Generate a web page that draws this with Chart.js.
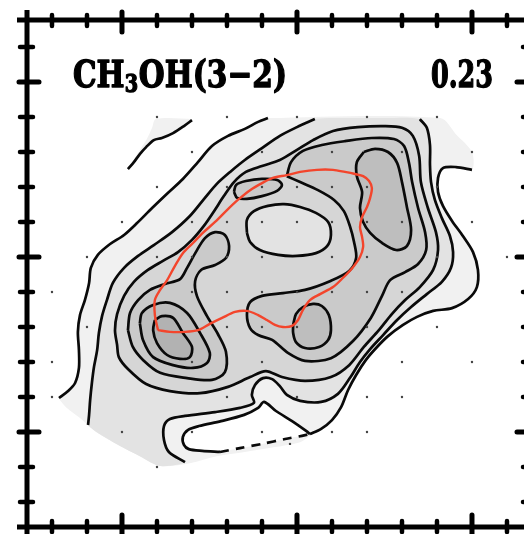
<!DOCTYPE html>
<html>
<head>
<meta charset="utf-8">
<script src="https://cdn.jsdelivr.net/npm/chart.js@4.4.1/dist/chart.umd.min.js"></script>
<style>
  html, body { margin: 0; padding: 0; background: #fff; overflow: hidden; }
  #wrap { width: 560px; height: 534px; }
</style>
</head>
<body>
<div id="wrap"><canvas id="map" width="560" height="534"></canvas></div>
<script>
// =========================
// Map frame: offsets in arcsec, one tick per arcsec
// =========================
const xRange = [-2.714, 11.629];
const yRange = [-7.714, 6.771];
const xTicks = [-2, -1, 0, 1, 2, 3, 4, 5, 6, 7, 8, 9, 10, 11];
const yTicks = [-7, -6, -5, -4, -3, -2, -1, 0, 1, 2, 3, 4, 5, 6];
const majorStep = 5;

const speciesLabel = ['CH', '3', 'OH(3\u22122)'];
const peakLabel = '0.23';

// =========================
// Contours (x, y in arcsec)
// =========================
const fragLine = [[2.00,3.91],[1.77,3.74],[1.46,3.54],[1.14,3.40],[0.91,3.34],[0.69,3.14],[0.51,2.94],[0.34,2.71],[0.17,2.51]];
const fragEdge = [[0.51,3.06],[0.71,3.37],[0.86,3.69],[0.97,3.94],[2.00,3.94]];

const l1West = [[-1.80,-4.03],[-1.54,-3.83],[-1.34,-3.60],[-1.23,-3.17],[-1.23,-2.66],[-1.26,-2.14],[-1.20,-1.66],[-1.06,-1.23],[-0.94,-0.74],[-0.89,-0.31],[-0.69,0.06],[-0.34,0.37],[0.06,0.63],[0.43,0.97],[0.86,1.40],[1.31,1.83],[1.74,2.23],[2.17,2.71],[2.57,3.17],[3.03,3.46],[3.51,3.66],[3.89,3.86],[4.17,3.97]];
const topEdge = [[9.09,3.97],[9.54,3.51],[10.00,3.00]];
const l1East = [[10.00,2.49],[9.54,2.57],[9.17,2.54],[9.03,2.26],[9.03,1.86],[9.17,1.46],[9.43,1.03],[9.74,0.60],[10.03,0.14],[10.17,-0.37],[10.14,-0.86],[9.89,-1.20],[9.43,-1.46],[8.89,-1.54],[8.43,-1.71],[8.03,-1.94],[7.60,-2.26],[7.26,-2.60],[6.97,-2.94],[6.69,-3.37],[6.46,-3.80],[6.26,-4.29],[6.00,-4.66],[5.69,-4.91],[5.37,-5.06]];
const coverBottom = [[5.37,-5.11],[5.09,-5.29],[4.37,-5.43],[3.51,-5.57],[2.71,-5.69],[1.94,-5.89],[1.09,-5.97],[0.51,-5.69],[-0.11,-5.37],[-0.69,-5.03],[-1.20,-4.60],[-1.60,-4.29],[-1.80,-4.06]];

const holeSolid = [[5.37,-5.06],[5.26,-4.97],[4.86,-4.69],[4.40,-4.40],[4.06,-4.14],[3.89,-4.31],[3.49,-4.51],[2.83,-4.69],[2.20,-4.83],[1.89,-4.94],[1.74,-5.14],[1.77,-5.37],[1.91,-5.49],[2.29,-5.54],[2.80,-5.57]];
const holeDashed = [[2.80,-5.57],[3.37,-5.46],[4.00,-5.34],[4.66,-5.20],[5.14,-5.11],[5.37,-5.06]];

const l2West = [[-0.97,-4.80],[-0.94,-4.51],[-0.91,-4.09],[-0.86,-3.60],[-0.80,-3.14],[-0.71,-2.66],[-0.66,-2.17],[-0.57,-1.69],[-0.43,-1.23],[-0.26,-0.74],[0.06,-0.31],[0.46,0.03],[0.91,0.34],[1.43,0.71],[1.94,1.17],[2.37,1.69],[2.71,2.09],[3.09,2.43],[3.51,2.77],[4.00,3.11],[4.51,3.46],[5.00,3.71],[5.51,3.94]];
const topEdge2 = [[6.50,3.97],[7.50,3.97]];
const l2East = [[8.51,3.94],[8.71,3.69],[8.80,3.20],[8.80,2.63],[8.83,2.14],[8.94,1.63],[9.14,1.11],[9.37,0.60],[9.46,0.14],[9.40,-0.31],[9.14,-0.71],[8.71,-1.06],[8.26,-1.43],[7.86,-1.80],[7.46,-2.23],[7.09,-2.63],[6.80,-3.00],[6.51,-3.46],[6.17,-3.91],[5.69,-4.14],[5.09,-4.11],[4.71,-3.94],[4.51,-3.69],[4.29,-3.49],[4.03,-3.46],[3.80,-3.66],[3.71,-3.94],[3.77,-4.17],[3.37,-4.31],[2.66,-4.43],[1.80,-4.54],[1.37,-4.63],[1.20,-4.83],[1.20,-5.23],[1.34,-5.57],[1.80,-5.86]];
const coverBottom2 = [[1.09,-5.97],[0.51,-5.69],[-0.11,-5.37],[-0.69,-5.03],[-0.97,-4.82]];

const l3Loop = [[-0.14,-2.51],[-0.20,-2.09],[-0.14,-1.63],[0.06,-1.11],[0.34,-0.71],[0.74,-0.37],[1.17,-0.11],[1.60,0.14],[2.00,0.49],[2.34,0.89],[2.63,1.31],[2.91,1.74],[3.20,2.14],[3.54,2.43],[4.00,2.60],[4.51,2.77],[5.00,3.06],[5.46,3.34],[6.03,3.60],[6.74,3.71],[7.51,3.74],[8.00,3.69],[8.31,3.46],[8.49,2.89],[8.54,2.14],[8.74,1.40],[8.97,0.71],[9.03,0.20],[8.89,-0.37],[8.51,-0.86],[8.09,-1.23],[7.71,-1.63],[7.34,-2.09],[6.91,-2.57],[6.49,-3.09],[5.97,-3.43],[5.23,-3.54],[4.57,-3.43],[4.11,-3.26],[3.66,-3.43],[3.03,-3.71],[2.23,-3.89],[1.37,-3.83],[0.69,-3.63],[0.17,-3.20],[-0.09,-2.86],[-0.14,-2.51]];
const dipLoop = [[3.57,0.69],[3.57,1.06],[3.77,1.31],[4.17,1.46],[4.63,1.51],[5.09,1.43],[5.54,1.26],[5.89,1.00],[5.97,0.63],[5.86,0.31],[5.54,0.11],[5.00,0.03],[4.46,0.06],[3.94,0.20],[3.66,0.43],[3.57,0.69]];
const knotLoop = [[3.20,1.86],[3.26,2.06],[3.54,2.17],[4.00,2.23],[4.43,2.20],[4.57,2.06],[4.43,1.89],[4.00,1.74],[3.57,1.66],[3.29,1.69],[3.20,1.86]];
const l4Main = [[4.71,2.31],[4.83,2.71],[5.17,3.03],[5.71,3.20],[6.37,3.31],[7.14,3.40],[7.77,3.37],[8.06,3.17],[8.20,2.69],[8.29,2.14],[8.46,1.40],[8.66,0.71],[8.69,0.20],[8.46,-0.20],[8.09,-0.43],[7.66,-0.66],[7.43,-1.11],[7.11,-1.74],[6.60,-2.40],[5.97,-2.89],[5.23,-2.97],[4.74,-2.74],[4.29,-2.37],[3.89,-2.23],[3.66,-2.03],[3.57,-1.66],[3.66,-1.29],[4.00,-1.11],[4.60,-1.03],[5.23,-0.94],[5.94,-0.69],[6.49,-0.40],[6.69,-0.03],[6.63,0.43],[6.51,0.89],[6.34,1.31],[6.06,1.63],[5.60,1.91],[5.09,2.14],[4.71,2.31]];
const l4South = [[0.17,-2.09],[0.23,-1.60],[0.46,-1.23],[0.80,-0.94],[1.23,-0.77],[1.66,-0.63],[1.86,-0.31],[2.11,0.14],[2.37,0.54],[2.66,0.71],[2.94,0.63],[3.06,0.31],[2.97,-0.03],[2.66,-0.23],[2.26,-0.37],[2.09,-0.69],[2.14,-1.11],[2.43,-1.69],[2.74,-2.20],[2.97,-2.71],[2.94,-3.29],[2.57,-3.51],[1.86,-3.46],[1.09,-3.31],[0.60,-2.94],[0.31,-2.57],[0.17,-2.09]];
const peakNE = [[6.91,3.00],[7.23,3.09],[7.60,3.00],[7.86,2.69],[8.00,2.14],[8.14,1.43],[8.26,0.77],[8.14,0.31],[7.83,0.20],[7.43,0.40],[7.09,0.69],[6.89,1.00],[6.80,1.40],[6.86,1.86],[6.71,2.31],[6.71,2.71],[6.91,3.00]];
const peakMid = [[4.89,-1.94],[4.97,-1.63],[5.17,-1.43],[5.46,-1.34],[5.71,-1.40],[5.91,-1.66],[5.97,-2.09],[5.89,-2.37],[5.63,-2.57],[5.23,-2.60],[4.97,-2.43],[4.89,-2.17],[4.89,-1.94]];
const ringSW5 = [[0.51,-1.89],[0.57,-1.60],[0.89,-1.37],[1.37,-1.31],[1.86,-1.60],[2.23,-2.17],[2.51,-2.74],[2.43,-3.03],[2.03,-3.17],[1.46,-3.09],[0.89,-2.86],[0.60,-2.37],[0.51,-1.89]];
const ringSW6 = [[0.94,-1.80],[1.14,-1.69],[1.46,-1.74],[1.74,-2.17],[2.00,-2.57],[1.94,-2.86],[1.66,-2.91],[1.29,-2.80],[1.00,-2.46],[0.89,-2.09],[0.94,-1.80]];

// red overlay contour
const redLoop = [[1.03,-2.09],[0.94,-1.66],[0.94,-1.23],[1.09,-0.94],[1.29,-0.66],[1.51,-0.26],[1.74,0.11],[2.03,0.40],[2.31,0.69],[2.66,1.00],[3.00,1.34],[3.31,1.63],[3.66,1.91],[4.00,2.11],[4.31,2.26],[4.71,2.34],[5.09,2.43],[5.57,2.49],[6.03,2.49],[6.37,2.43],[6.66,2.37],[6.89,2.31],[7.06,2.17],[7.14,1.97],[7.09,1.69],[7.00,1.43],[6.86,1.14],[6.80,0.86],[6.86,0.57],[6.89,0.29],[6.80,0.00],[6.60,-0.29],[6.31,-0.60],[6.03,-0.86],[5.66,-1.06],[5.37,-1.23],[5.17,-1.51],[5.03,-1.80],[4.86,-1.97],[4.60,-2.00],[4.37,-1.94],[4.14,-1.80],[3.89,-1.66],[3.57,-1.54],[3.23,-1.57],[2.86,-1.74],[2.51,-1.91],[2.17,-2.09],[1.80,-2.14],[1.37,-2.14],[1.03,-2.09]];

// pointing centres: rows (y) and the columns (x) marked in each row
const dotRows = [4, 3, 2, 1, 0, -1, -2, -3, -4, -5, -6];
const dotCols = [
  [1, 3, 5, 7, 9],
  [2, 4, 6, 8, 10],
  [1, 3, 4, 5, 6, 7, 9],
  [0, 2, 3, 4, 5, 6, 7, 8, 10],
  [-1, 1, 2, 3, 4, 6, 7, 9, 11],
  [-2, 2, 3, 4, 5, 6, 7, 8],
  [-1, 3, 4, 5, 7, 9],
  [-2, 2, 4, 8, 10],
  [-2, 3, 5, 7, 8],
  [0, 2, 4, 6, 7],
  [1]
];
const extraDots = [[4.80, -5.34]];

// =========================
// Build datasets
// =========================
const levelColors = ['#f1f1f1', '#e3e3e3', '#d6d6d6', '#cacaca', '#bebebe', '#b2b2b2'];
const TENSION = 0.3;
const LINE_W = 2.7;

function pts(...parts) {
    return parts.flat().map(([x, y]) => ({ x, y }));
}

function area(data, color) {
    return { data, showLine: true, fill: 'shape', backgroundColor: color,
             borderWidth: 0, borderColor: 'rgba(0,0,0,0)', pointRadius: 0, tension: TENSION };
}

function contour(data, color) {
    return { data, showLine: true, fill: 'shape', backgroundColor: color,
             borderColor: '#0a0a0a', borderWidth: LINE_W, pointRadius: 0, tension: TENSION };
}

function stroke(data, extra) {
    return Object.assign({ data, showLine: true, fill: false, borderColor: '#0a0a0a',
             borderWidth: LINE_W, pointRadius: 0, tension: TENSION }, extra || {});
}

const dots = [];
dotRows.forEach((row, k) => dotCols[k].forEach(col => dots.push({ x: col, y: row })));
extraDots.forEach(([x, y]) => dots.push({ x, y }));

const layers = [
    area(pts(l1West, topEdge, l1East, coverBottom), levelColors[0]),
    area(pts(fragLine, fragEdge, [fragLine[0]]), levelColors[0]),
    area(pts(holeSolid, holeDashed), '#ffffff'),
    area(pts(l2West, topEdge2, l2East, coverBottom2), levelColors[1]),
    contour(pts(l3Loop), levelColors[2]),
    contour(pts(dipLoop), levelColors[1]),
    contour(pts(knotLoop), levelColors[3]),
    contour(pts(l4Main), levelColors[3]),
    contour(pts(l4South), levelColors[3]),
    contour(pts(peakNE), levelColors[4]),
    contour(pts(peakMid), levelColors[4]),
    contour(pts(ringSW5), levelColors[4]),
    contour(pts(ringSW6), levelColors[5]),
    stroke(pts(fragLine)),
    stroke(pts(l1West)),
    stroke(pts(l1East)),
    stroke(pts(holeSolid)),
    stroke(pts(holeDashed), { borderDash: [9, 7] }),
    stroke(pts(l2West)),
    stroke(pts(l2East)),
    stroke(pts(redLoop), { borderColor: '#f3452c', borderWidth: 2.4 }),
    { data: dots, showLine: false, pointRadius: 1.2, pointBackgroundColor: '#444', pointBorderWidth: 0 }
];
// first layer at the bottom
layers.forEach((ds, i) => { ds.order = layers.length - i; });

// =========================
// Frame, ticks and labels
// =========================
const framePlugin = {
    id: 'frame',
    afterDraw(chart) {
        const { ctx, chartArea: a, scales: { x, y } } = chart;
        ctx.save();
        ctx.strokeStyle = '#000';
        ctx.lineWidth = 5;
        ctx.lineCap = 'butt';
        ctx.beginPath();
        ctx.moveTo(a.left, a.top - 10); ctx.lineTo(a.left, a.bottom + 10);
        ctx.moveTo(a.right, a.top - 10); ctx.lineTo(a.right, a.bottom + 10);
        ctx.moveTo(a.left - 10, a.top); ctx.lineTo(a.right + 10, a.top);
        ctx.moveTo(a.left - 10, a.bottom); ctx.lineTo(a.right + 10, a.bottom);
        ctx.stroke();

        ctx.lineCap = 'round';
        xTicks.forEach(v => {
            const px = x.getPixelForValue(v);
            const major = v % majorStep === 0;
            const inner = major ? 12 : 6, outer = major ? 8 : 5;
            ctx.lineWidth = major ? 5 : 4.5;
            ctx.beginPath();
            ctx.moveTo(px, a.top - outer); ctx.lineTo(px, a.top + inner);
            ctx.moveTo(px, a.bottom + outer); ctx.lineTo(px, a.bottom - inner);
            ctx.stroke();
        });
        yTicks.forEach(v => {
            const py = y.getPixelForValue(v);
            const major = v % majorStep === 0;
            const inner = major ? 12 : 6, outer = major ? 8 : 7;
            ctx.lineWidth = major ? 5 : 4.5;
            ctx.beginPath();
            ctx.moveTo(a.left - outer, py); ctx.lineTo(a.left + inner, py);
            ctx.moveTo(a.right + outer, py); ctx.lineTo(a.right - inner, py);
            ctx.stroke();
        });

        // species name and peak value (heavy face: fill plus a thin stroke)
        ctx.fillStyle = '#000';
        ctx.strokeStyle = '#000';
        ctx.lineWidth = 1.4;
        ctx.lineJoin = 'round';
        ctx.textBaseline = 'alphabetic';
        const big = "bold 37px 'DejaVu Serif'";
        const small = "bold 24px 'DejaVu Serif'";
        const put = (t, px, py) => { ctx.fillText(t, px, py); ctx.strokeText(t, px, py); };
        ctx.font = big;
        const w1 = ctx.measureText(speciesLabel[0]).width;
        const w3 = ctx.measureText(speciesLabel[2]).width;
        ctx.font = small;
        const w2 = ctx.measureText(speciesLabel[1]).width + 1;
        const sx = 214 / (w1 + w2 + w3);
        ctx.save();
        ctx.translate(a.left + 46, a.top + 67);
        ctx.scale(sx, 1);
        ctx.font = big;
        put(speciesLabel[0], 0, 0);
        ctx.font = small;
        put(speciesLabel[1], w1, 5);
        ctx.font = big;
        put(speciesLabel[2], w1 + w2, 0);
        ctx.restore();

        ctx.font = big;
        const wp = ctx.measureText(peakLabel).width;
        const sp = 62 / wp;
        ctx.save();
        ctx.translate(a.left + 404, a.top + 67);
        ctx.scale(sp, 1);
        put(peakLabel, 0, 0);
        ctx.restore();
        ctx.restore();
    }
};

new Chart(document.getElementById('map'), {
    type: 'scatter',
    data: { datasets: layers },
    options: {
        responsive: false,
        animation: false,
        events: [],
        layout: { padding: { left: 27, top: 20, right: 31, bottom: 7 } },
        scales: {
            x: { type: 'linear', min: xRange[0], max: xRange[1], display: false },
            y: { type: 'linear', min: yRange[0], max: yRange[1], display: false }
        },
        plugins: {
            legend: { display: false },
            tooltip: { enabled: false },
            filler: { propagate: false }
        }
    },
    plugins: [framePlugin]
});
</script>
</body>
</html>
